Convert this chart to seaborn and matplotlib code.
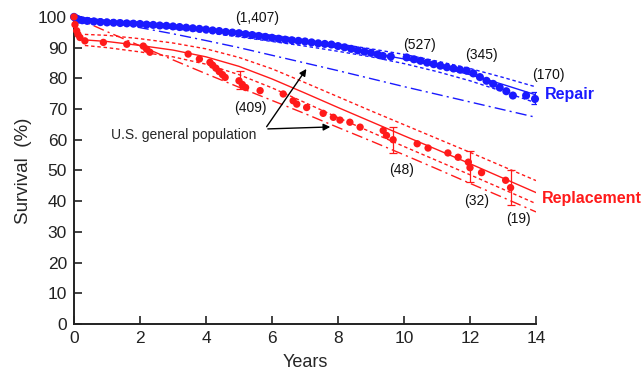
import numpy as np
import pandas as pd
import seaborn as sns
import matplotlib
matplotlib.use('Agg')
import matplotlib.pyplot as plt

# Kaplan-Meier points, repair
rep_t = [0.00, 0.05, 0.10, 0.15, 0.25, 0.4, 0.6, 0.8, 1.0, 1.2, 1.4, 1.6, 1.8, 2.0, 2.2, 2.4,
         2.6, 2.8, 3.0, 3.2, 3.4, 3.6, 3.8, 4.0, 4.2, 4.4, 4.6, 4.8, 5.0, 5.2, 5.4, 5.6, 5.8,
         6.0, 6.2, 6.4, 6.6, 6.8, 7.0, 7.2, 7.4, 7.6, 7.8, 8.0, 8.2, 8.4, 8.6, 8.8, 9.0, 9.2,
         9.36, 9.6, 10.08, 10.3, 10.5, 10.7, 10.9, 11.1, 11.3, 11.5, 11.7, 11.9, 12.1, 12.3,
         12.5, 12.7, 12.9, 13.1, 13.3, 13.7, 13.97]
rep_s = [100.0, 99.6, 99.3, 99.1, 98.9, 98.7, 98.5, 98.3, 98.2, 98.1, 98.0, 97.9, 97.8, 97.7,
         97.5, 97.4, 97.2, 97.1, 96.9, 96.7, 96.5, 96.3, 96.1, 95.9, 95.6, 95.4, 95.1, 94.9,
         94.7, 94.4, 94.1, 93.8, 93.5, 93.2, 92.9, 92.6, 92.4, 92.2, 92.0, 91.7, 91.4, 91.2,
         91.0, 90.5, 90.1, 89.6, 89.1, 88.7, 88.3, 87.8, 87.3, 87.1, 86.8, 86.2, 85.7, 85.1,
         84.6, 84.1, 83.6, 83.2, 82.8, 82.5, 81.6, 80.4, 79.2, 78.2, 77.0, 75.8, 74.4, 74.4, 73.3]

# Kaplan-Meier points, replacement
rpl_t = [0.00, 0.03, 0.08, 0.12, 0.18, 0.33, 0.89, 1.6, 2.1, 2.2, 2.3, 3.46, 3.8, 4.12, 4.2,
         4.3, 4.4, 4.5, 4.58, 5.0, 5.1, 5.2, 5.64, 6.34, 6.64, 6.75, 7.05, 7.55, 7.86, 8.06,
         8.36, 8.67, 9.37, 9.47, 9.67, 10.4, 10.73, 11.33, 11.64, 11.95, 12.0, 12.35, 13.08, 13.23]
rpl_s = [100.0, 97.5, 95.5, 94.3, 93.3, 92.2, 91.7, 91.1, 90.5, 89.5, 88.5, 87.9, 86.3, 85.2,
         84.3, 83.3, 82.2, 81.2, 80.3, 79.2, 78.0, 77.0, 76.0, 74.9, 72.7, 71.6, 70.5, 68.6,
         67.3, 66.4, 65.7, 64.1, 63.0, 61.4, 60.0, 58.7, 57.3, 55.7, 54.3, 52.7, 50.9, 49.3,
         46.8, 44.4]

# fitted curves with confidence limits and general population curves
fit_t = [0, 1, 2, 3, 4, 5, 6, 7, 8, 9, 10, 11, 12, 13, 14]
rep_fit = [100.0, 98.9, 97.8, 96.8, 95.6, 94.4, 93.0, 91.6, 90.0, 88.3, 86.3, 83.9, 81.2, 78.0, 74.6]
rep_hi = [100.0, 99.2, 98.3, 97.4, 96.4, 95.3, 94.0, 92.7, 91.2, 89.6, 87.8, 85.6, 83.2, 80.3, 77.2]
rep_lo = [100.0, 98.6, 97.3, 96.2, 94.9, 93.5, 92.0, 90.5, 88.8, 87.0, 84.8, 82.2, 79.2, 75.7, 72.0]
rep_pop = [100.0, 98.3, 96.5, 94.5, 92.3, 90.0, 87.5, 85.0, 82.5, 79.9, 77.3, 74.8, 72.3, 69.8, 67.3]

rfit_t = [0.33, 1, 2, 3, 4, 5, 6, 7, 8, 9, 10, 11, 12, 13, 14]
rpl_fit = [92.5, 92.0, 90.7, 89.2, 87.0, 83.9, 79.8, 75.2, 70.5, 65.9, 61.3, 56.8, 52.2, 47.5, 42.8]
rpl_hi = [94.3, 94.0, 92.9, 91.5, 89.6, 86.8, 83.1, 78.6, 74.0, 69.4, 64.9, 60.4, 55.9, 51.3, 46.7]
rpl_lo = [90.7, 90.0, 88.6, 87.0, 84.6, 81.2, 76.9, 72.1, 67.2, 62.5, 57.8, 53.2, 48.6, 43.9, 39.2]
rpl_pop = [100.0, 95.2, 90.6, 86.0, 81.5, 77.1, 72.8, 68.5, 64.0, 59.6, 55.1, 50.5, 45.8, 41.2, 36.5]

# error bars (time, centre, upper, lower)
eb_rep = ([13.97], [73.3], [75.6], [71.5])
eb_rpl = ([5.03, 9.67, 12.0, 13.23], [79.2, 60.0, 51.3, 44.4], [82.3, 64.3, 56.2, 50.0],
          [76.5, 55.6, 46.2, 38.6])

# numbers at risk
risk_lbl = ['(1,407)', '(527)', '(345)', '(170)', '(409)', '(48)', '(32)', '(19)']
risk_x = [5.54, 10.48, 12.36, 14.37, 5.33, 9.93, 12.2, 13.46]
risk_y = [99.6, 90.9, 87.6, 81.1, 70.3, 50.2, 40.2, 34.1]

blue = '#1a1aff'
red = '#ff1a1a'

sns.set_style('ticks')
plt.rcParams['font.family'] = ['Liberation Sans', 'DejaVu Sans']

fig = plt.figure(figsize=(6.44, 3.79), dpi=100)
ax = fig.add_axes([0.1149, 0.1451, 0.7174, 0.8103])

def line(x, y, color, ls, lw=1.0):
    sns.lineplot(x=x, y=y, ax=ax, color=color, linestyle=ls, linewidth=lw,
                 estimator=None, sort=False)

dash = (0, (2.5, 2))
dashdot = (0, (8, 3, 1.5, 3))

line(fit_t, rep_fit, blue, '-')
line(fit_t, rep_hi, blue, dash)
line(fit_t, rep_lo, blue, dash)
line(fit_t, rep_pop, blue, dashdot)

line(rfit_t, rpl_fit, red, '-')
line(rfit_t, rpl_hi, red, dash)
line(rfit_t, rpl_lo, red, dash)
line(fit_t, rpl_pop, red, dashdot)

sns.scatterplot(x=rep_t, y=rep_s, ax=ax, color=blue, s=34, edgecolor='none', clip_on=False, zorder=3)
sns.scatterplot(x=rpl_t, y=rpl_s, ax=ax, color=red, s=28, edgecolor='none', clip_on=False, zorder=3)

for (t, c, hi, lo), col in [(eb_rep, blue), (eb_rpl, red)]:
    c = np.array(c)
    yerr = [c - np.array(lo), np.array(hi) - c]
    ax.errorbar(t, c, yerr=yerr, fmt='none', ecolor=col, elinewidth=0.9, capsize=3,
                capthick=0.9, zorder=3)

for lbl, x, y in zip(risk_lbl, risk_x, risk_y):
    ax.text(x, y, lbl, fontsize=10, ha='center', va='center', color='#111111')

ax.text(14.27, 74.6, 'Repair', color=blue, fontsize=11.5, fontweight='bold', ha='left', va='center')
ax.text(14.18, 40.9, 'Replacement', color=red, fontsize=11.5, fontweight='bold', ha='left', va='center')

ax.text(3.33, 61.6, 'U.S. general population', fontsize=10, ha='center', va='center')
for tip in [(7.09, 83.8), (7.85, 64.2)]:
    ax.annotate('', xy=tip, xytext=(5.79, 63.5),
                arrowprops=dict(arrowstyle='-|>', color='black', lw=1, mutation_scale=10))

ax.set_xlim(0, 14)
ax.set_ylim(0, 100)
ax.set_xticks(range(0, 15, 2))
ax.set_yticks(range(0, 101, 10))
ax.tick_params(direction='in', length=6, width=1.2, labelsize=12.5, pad=5, colors='#222222')
ax.set_xlabel('Years', fontsize=13, labelpad=6)
ax.set_ylabel('Survival  (%)', fontsize=13.5, labelpad=4)
sns.despine(ax=ax)
for sp in ['left', 'bottom']:
    ax.spines[sp].set_linewidth(1.4)
    ax.spines[sp].set_color('#222222')

fig.savefig('out.png', dpi=100)
